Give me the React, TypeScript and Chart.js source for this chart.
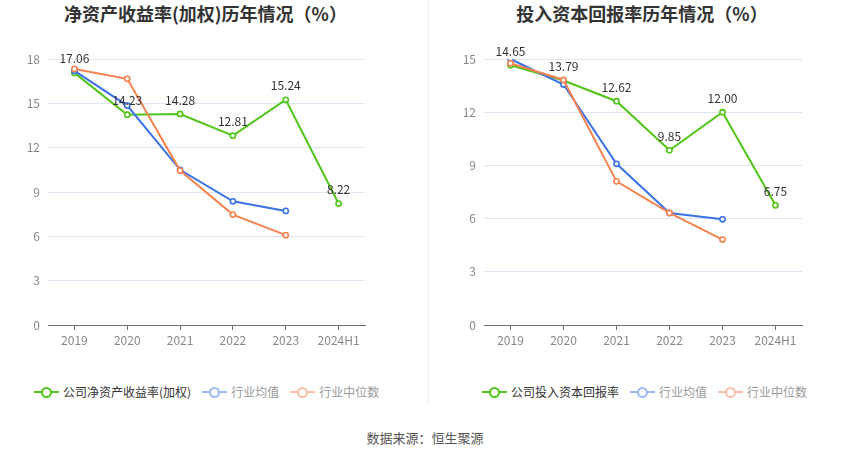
import React, { useEffect, useRef } from "react";
import { Chart, registerables } from "chart.js";

Chart.register(...registerables);

const categories = ["2019", "2020", "2021", "2022", "2023", "2024H1"];

const roeCompany = [17.06, 14.23, 14.28, 12.81, 15.24, 8.22];
const roeMean = [17.2, 14.85, 10.5, 8.37, 7.72, null];
const roeMedian = [17.33, 16.66, 10.45, 7.47, 6.08, null];
const roeTicks = { min: 0, max: 18, step: 3 };

const roicCompany = [14.65, 13.79, 12.62, 9.85, 12.0, 6.75];
const roicMean = [15.0, 13.56, 9.09, 6.32, 5.96, null];
const roicMedian = [14.76, 13.82, 8.1, 6.32, 4.82, null];
const roicTicks = { min: 0, max: 15, step: 3 };

const GREEN = "#52c41a";
const BLUE = "#3b72e6";
const ORANGE = "#f5824f";
const FONT = "'Noto Sans CJK SC', 'Noto Sans', sans-serif";

const labelPlugin = {
  id: "companyLabels",
  afterDatasetsDraw(chart: any) {
    const ctx = chart.ctx;
    const meta = chart.getDatasetMeta(0);
    const data = chart.data.datasets[0].data;
    ctx.save();
    ctx.font = `12px ${FONT}`;
    ctx.fillStyle = "#333";
    ctx.textAlign = "center";
    ctx.textBaseline = "middle";
    meta.data.forEach((pt: any, i: number) => {
      const v = data[i];
      if (v == null) return;
      ctx.fillText(Number(v).toFixed(2), pt.x, pt.y - 14);
    });
    ctx.restore();
  },
};

function LineChart(props: {
  company: (number | null)[];
  mean: (number | null)[];
  median: (number | null)[];
  ticks: { min: number; max: number; step: number };
  width: number;
  height: number;
  padRight: number;
}) {
  const ref = useRef<HTMLCanvasElement>(null);
  useEffect(() => {
    const ds = (data: any[], color: string, order: number) => ({
      data,
      borderColor: color,
      backgroundColor: "#fff",
      borderWidth: 2,
      pointRadius: 2.6,
      pointBorderWidth: 1.6,
      pointBackgroundColor: "#fff",
      pointBorderColor: color,
      tension: 0,
      spanGaps: false,
      order,
    });
    const chart = new Chart(ref.current as HTMLCanvasElement, {
      type: "line",
      data: {
        labels: categories,
        datasets: [
          ds(props.company, GREEN, 3),
          ds(props.mean, BLUE, 2),
          ds(props.median, ORANGE, 1),
        ],
      },
      options: {
        responsive: false,
        animation: false,
        layout: { padding: { left: 0, right: props.padRight, top: 59, bottom: 0 } },
        plugins: {
          legend: { display: false },
          title: { display: false },
          tooltip: { enabled: false },
        },
        scales: {
          x: {
            type: "category",
            offset: true,
            afterFit: (s: any) => {
              s.height = 35;
            },
            grid: {
              display: true,
              drawOnChartArea: false,
              offset: false,
              tickLength: 5,
              color: "#6e7079",
            },
            border: { display: true, color: "#6e7079", width: 1 },
            ticks: {
              color: "#888",
              font: { size: 12, family: FONT },
              padding: 3,
              maxRotation: 0,
              autoSkip: false,
            },
          },
          y: {
            min: props.ticks.min,
            max: props.ticks.max,
            afterFit: (s: any) => {
              s.width = 48;
            },
            grid: { color: "#e0e6f1", drawTicks: false, lineWidth: 1 },
            border: { display: false },
            ticks: {
              stepSize: props.ticks.step,
              color: "#888",
              font: { size: 12, family: FONT },
              padding: 8,
            },
          },
        },
      },
      plugins: [labelPlugin],
    } as any);
    return () => chart.destroy();
  }, []);
  return <canvas ref={ref} width={props.width} height={props.height} />;
}

function LegendItem(props: { color: string; label: string; textColor: string }) {
  return (
    <div style={{ display: "flex", alignItems: "center", marginRight: 11 }}>
      <div style={{ position: "relative", width: 25, height: 14, marginRight: 4 }}>
        <div
          style={{
            position: "absolute",
            left: 0,
            top: 6,
            width: 25,
            height: 2,
            background: props.color,
          }}
        />
        <div
          style={{
            position: "absolute",
            left: 7,
            top: 2,
            width: 7,
            height: 7,
            borderRadius: "50%",
            border: `2px solid ${props.color}`,
            background: "#fff",
          }}
        />
      </div>
      <span style={{ fontSize: 12, color: props.textColor, whiteSpace: "nowrap" }}>{props.label}</span>
    </div>
  );
}

export default function App() {
  return (
    <div
      style={{
        position: "absolute",
        left: 0,
        top: 0,
        width: 850,
        height: 459,
        background: "#fff",
        fontFamily: FONT,
        overflow: "hidden",
      }}
    >
      <div
        style={{
          position: "absolute",
          left: 0,
          top: 0,
          width: 411,
          textAlign: "center",
          fontSize: 18,
          fontWeight: "bold",
          color: "#333",
          lineHeight: "26px",
        }}
      >
        净资产收益率(加权)历年情况（%）
      </div>
      <div
        style={{
          position: "absolute",
          left: 446,
          top: 0,
          width: 392,
          textAlign: "center",
          fontSize: 18,
          fontWeight: "bold",
          color: "#333",
          lineHeight: "26px",
        }}
      >
        投入资本回报率历年情况（%）
      </div>
      <div style={{ position: "absolute", left: 428, top: 0, width: 1, height: 405, background: "#eee" }} />
      <div style={{ position: "absolute", left: 0, top: 0 }}>
        <LineChart
          company={roeCompany}
          mean={roeMean}
          median={roeMedian}
          ticks={roeTicks}
          width={425}
          height={360}
          padRight={60}
        />
      </div>
      <div style={{ position: "absolute", left: 436, top: 0 }}>
        <LineChart
          company={roicCompany}
          mean={roicMean}
          median={roicMedian}
          ticks={roicTicks}
          width={414}
          height={360}
          padRight={48}
        />
      </div>
      <div style={{ position: "absolute", left: 34, top: 383, display: "flex" }}>
        <LegendItem color={GREEN} label="公司净资产收益率(加权)" textColor="#333" />
        <LegendItem color="#9bb9f2" label="行业均值" textColor="#999" />
        <LegendItem color="#f9c0a6" label="行业中位数" textColor="#999" />
      </div>
      <div style={{ position: "absolute", left: 482, top: 383, display: "flex" }}>
        <LegendItem color={GREEN} label="公司投入资本回报率" textColor="#333" />
        <LegendItem color="#9bb9f2" label="行业均值" textColor="#999" />
        <LegendItem color="#f9c0a6" label="行业中位数" textColor="#999" />
      </div>
      <div
        style={{
          position: "absolute",
          left: 0,
          top: 429,
          width: 850,
          textAlign: "center",
          fontSize: 13,
          color: "#555",
          lineHeight: "18px",
        }}
      >
        数据来源：恒生聚源
      </div>
    </div>
  );
}
